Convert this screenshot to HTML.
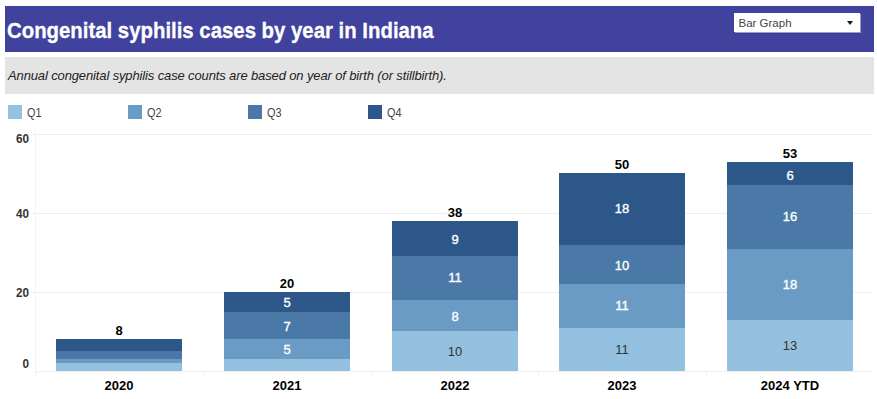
<!DOCTYPE html>
<html><head><meta charset="utf-8">
<style>
*{margin:0;padding:0;box-sizing:border-box}
html,body{width:877px;height:399px;overflow:hidden;background:#fff;font-family:"Liberation Sans",sans-serif}
.abs,.b,.t,.g,.tick,.sw,.lt{position:absolute}
#hdr{position:absolute;left:5px;top:6px;width:869px;height:46px;background:#40429d}
#title{position:absolute;left:7px;top:19.55px;font-weight:bold;font-size:22.5px;line-height:22.5px;color:#fff;white-space:nowrap;-webkit-text-stroke:0.3px #fff;transform:scaleX(0.905);transform-origin:0 0}
#dd{position:absolute;left:734px;top:13px;width:126px;height:19px;background:#fff;box-shadow:1px 1px 0 #9b9cc9}
#dds{position:absolute;left:735px;top:33px;width:126px;height:1px;background:#37398a}
#ddt{position:absolute;left:738.5px;top:17.87px;font-size:11.5px;line-height:11.5px;color:#444;white-space:nowrap}
#tri{position:absolute;left:847px;top:21px;width:0;height:0;border-left:3px solid transparent;border-right:3px solid transparent;border-top:4px solid #1a1a1a}
#sub{position:absolute;left:5px;top:57px;width:869px;height:37px;background:#e4e4e4}
#subt{position:absolute;left:8px;top:68.90px;font-style:italic;font-size:13px;line-height:13px;color:#222;white-space:nowrap;letter-spacing:-0.13px}
.sw{top:105px;width:14px;height:14px}
.lt{font-size:12.5px;line-height:12.5px;color:#444;white-space:nowrap;transform:scaleX(0.87);transform-origin:0 0}
.t{font-size:13px;line-height:13px;text-align:center;white-space:nowrap}
.lw{color:#fff;-webkit-text-stroke:0.35px #fff}
.lq1{color:#333}
.tot,.xl{color:#000;font-weight:bold}
.yl{left:0;width:29px;text-align:right;color:#333;font-weight:bold;transform:scaleX(0.9);transform-origin:100% 0}
.g{left:31px;width:842px;height:1px;background:#efefef}
#base{position:absolute;left:35px;top:371px;width:838px;height:1px;background:#f0f0f0}
#vax{position:absolute;left:35px;top:128px;width:1px;height:248px;background:#f4f4f4}
.tick{top:371px;width:1px;height:5px;background:#f2f2f2}
</style></head><body>
<div id="hdr"></div>
<div id="title">Congenital syphilis cases by year in Indiana</div>
<div id="dds"></div><div id="dd"></div>
<div id="ddt">Bar Graph</div>
<div id="tri"></div>
<div id="sub"></div>
<div id="subt">Annual congenital syphilis case counts are based on year of birth (or stillbirth).</div>
<div class="sw" style="left:8px;background:#94c1e0"></div><div class="lt" style="left:26.7px;top:107.12px">Q1</div>
<div class="sw" style="left:128px;background:#6a9bc5"></div><div class="lt" style="left:146.7px;top:107.12px">Q2</div>
<div class="sw" style="left:248px;background:#4a79a8"></div><div class="lt" style="left:266.7px;top:107.12px">Q3</div>
<div class="sw" style="left:368px;background:#2c5788"></div><div class="lt" style="left:386.7px;top:107.12px">Q4</div>
<div class="g" style="top:133.50px"></div>
<div class="g" style="top:212.50px"></div>
<div class="g" style="top:291.50px"></div>
<div id="base"></div>
<div id="vax"></div>
<div class="tick" style="left:202.75px"></div>
<div class="tick" style="left:370.50px"></div>
<div class="tick" style="left:538.25px"></div>
<div class="tick" style="left:706.00px"></div>
<div class="b" style="left:56px;top:363px;width:126px;height:8px;background:#94c1e0"></div>
<div class="b" style="left:56px;top:359px;width:126px;height:4px;background:#6a9bc5"></div>
<div class="b" style="left:56px;top:351px;width:126px;height:8px;background:#4a79a8"></div>
<div class="b" style="left:56px;top:339px;width:126px;height:12px;background:#2c5788"></div>
<div class="t tot" style="left:56.00px;width:126px;top:323.85px">8</div>
<div class="t xl" style="left:56.00px;width:126px;top:378.70px">2020</div>
<div class="b" style="left:224px;top:359px;width:126px;height:12px;background:#94c1e0"></div>
<div class="b" style="left:224px;top:339px;width:126px;height:20px;background:#6a9bc5"></div>
<div class="t lw" style="left:224.00px;width:126px;top:342.85px">5</div>
<div class="b" style="left:224px;top:312px;width:126px;height:27px;background:#4a79a8"></div>
<div class="t lw" style="left:224.00px;width:126px;top:320.15px">7</div>
<div class="b" style="left:224px;top:292px;width:126px;height:20px;background:#2c5788"></div>
<div class="t lw" style="left:224.00px;width:126px;top:296.00px">5</div>
<div class="t tot" style="left:224.00px;width:126px;top:276.75px">20</div>
<div class="t xl" style="left:224.00px;width:126px;top:378.70px">2021</div>
<div class="b" style="left:392px;top:331px;width:126px;height:40px;background:#94c1e0"></div>
<div class="t lq1" style="left:392.00px;width:126px;top:345.10px">10</div>
<div class="b" style="left:392px;top:300px;width:126px;height:31px;background:#6a9bc5"></div>
<div class="t lw" style="left:392.00px;width:126px;top:310.00px">8</div>
<div class="b" style="left:392px;top:256px;width:126px;height:44px;background:#4a79a8"></div>
<div class="t lw" style="left:392.00px;width:126px;top:271.20px">11</div>
<div class="b" style="left:392px;top:221px;width:126px;height:35px;background:#2c5788"></div>
<div class="t lw" style="left:392.00px;width:126px;top:233.40px">9</div>
<div class="t tot" style="left:392.00px;width:126px;top:205.50px">38</div>
<div class="t xl" style="left:392.00px;width:126px;top:378.70px">2022</div>
<div class="b" style="left:559px;top:328px;width:126px;height:43px;background:#94c1e0"></div>
<div class="t lq1" style="left:559.00px;width:126px;top:343.00px">11</div>
<div class="b" style="left:559px;top:284px;width:126px;height:44px;background:#6a9bc5"></div>
<div class="t lw" style="left:559.00px;width:126px;top:299.10px">11</div>
<div class="b" style="left:559px;top:245px;width:126px;height:39px;background:#4a79a8"></div>
<div class="t lw" style="left:559.00px;width:126px;top:259.20px">10</div>
<div class="b" style="left:559px;top:173px;width:126px;height:72px;background:#2c5788"></div>
<div class="t lw" style="left:559.00px;width:126px;top:202.30px">18</div>
<div class="t tot" style="left:559.00px;width:126px;top:157.80px">50</div>
<div class="t xl" style="left:559.00px;width:126px;top:378.70px">2023</div>
<div class="b" style="left:727px;top:320px;width:126px;height:51px;background:#94c1e0"></div>
<div class="t lq1" style="left:727.00px;width:126px;top:338.90px">13</div>
<div class="b" style="left:727px;top:249px;width:126px;height:71px;background:#6a9bc5"></div>
<div class="t lw" style="left:727.00px;width:126px;top:278.05px">18</div>
<div class="b" style="left:727px;top:185px;width:126px;height:64px;background:#4a79a8"></div>
<div class="t lw" style="left:727.00px;width:126px;top:209.75px">16</div>
<div class="b" style="left:727px;top:162px;width:126px;height:23px;background:#2c5788"></div>
<div class="t lw" style="left:727.00px;width:126px;top:168.55px">6</div>
<div class="t tot" style="left:727.00px;width:126px;top:146.80px">53</div>
<div class="t xl" style="left:727.00px;width:126px;top:378.70px">2024 YTD</div>
<div class="t yl" style="top:132.00px">60</div>
<div class="t yl" style="top:207.00px">40</div>
<div class="t yl" style="top:286.00px">20</div>
<div class="t yl" style="top:357.00px">0</div>
</body></html>
